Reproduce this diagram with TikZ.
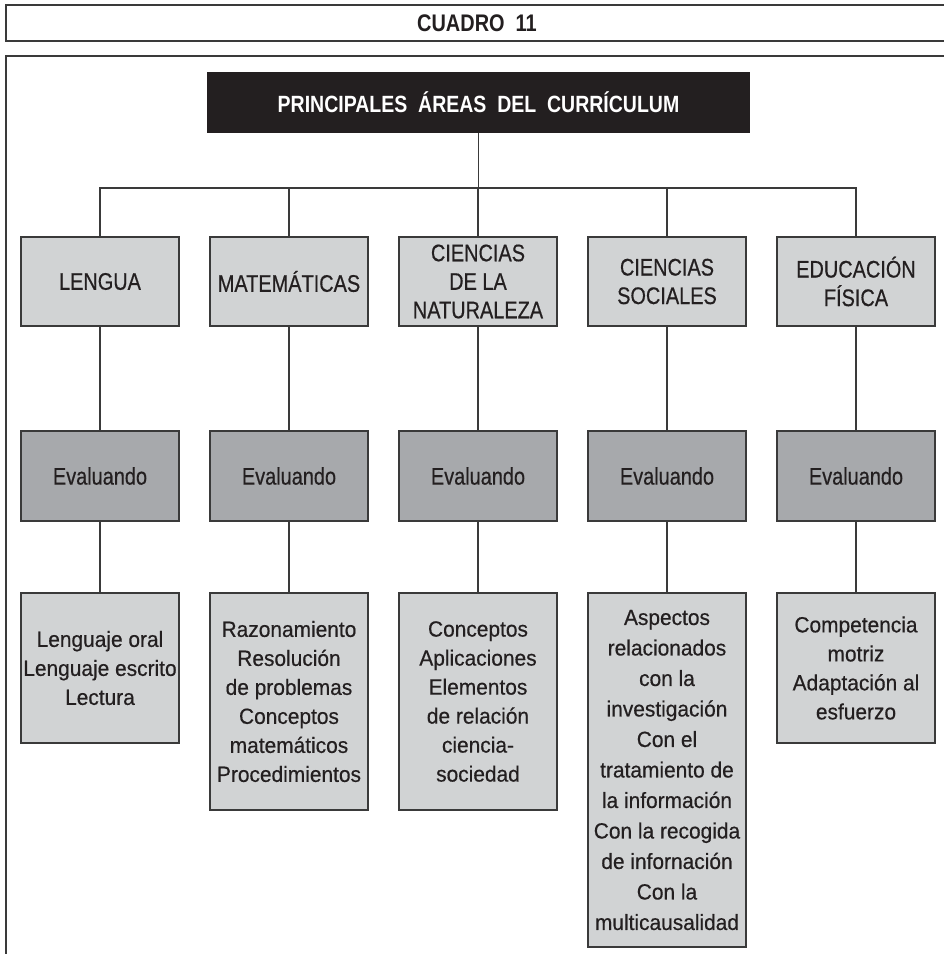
\documentclass[tikz,border=0pt]{standalone}
\usepackage{fontspec}
\setmainfont{Liberation Sans}
\newfontfamily\cbold{Liberation Sans Bold}[FakeStretch=0.83]
\newfontfamily\cnorm{Liberation Sans}[FakeStretch=0.83,FakeBold=0.5]
\newfontfamily\inorm{Liberation Sans}[FakeStretch=0.95,FakeBold=0.5]
\definecolor{ink}{HTML}{231F20}
\definecolor{lightbox}{HTML}{D1D3D4}
\definecolor{darkbox}{HTML}{A7A9AC}
\definecolor{linecol}{HTML}{3A3A3A}
\begin{document}
\begin{tikzpicture}[x=1pt,y=-1pt,
  framebox/.style={draw=linecol,line width=1.8pt},
  areabox/.style={draw=linecol,line width=1.6pt,fill=lightbox,minimum width=158pt,inner sep=0pt,align=center,text=ink,font=\cnorm\fontsize{24}{28.5}\selectfont},
  evalbox/.style={draw=linecol,line width=1.6pt,fill=darkbox,minimum width=158pt,minimum height=90pt,inner sep=0pt,align=center,text=ink,font=\cnorm\fontsize{24}{28}\selectfont},
  itembox/.style={draw=linecol,line width=1.6pt,fill=lightbox,minimum width=158pt,inner sep=0pt,align=center,text=ink,font=\inorm\fontsize{22}{29}\selectfont},
  conn/.style={draw=linecol,line width=1.3pt}]
\useasboundingbox (0,0) rectangle (944,954);
% frames
\draw[framebox] (960,4.7) -- (5.7,4.7) -- (5.7,41) -- (960,41);
\node[text=ink,font=\cbold\fontsize{24}{28}\selectfont] (cuadro) at (477,23) {CUADRO\ \ 11};
\draw[framebox] (960,56) -- (5.7,56) -- (5.7,970);
% title
\node[fill=ink,minimum width=543pt,minimum height=61pt,inner sep=0pt,text=white,font=\cbold\fontsize{23.5}{28}\selectfont] (title) at (478.5,102.5) {PRINCIPALES\ \ ÁREAS\ \ DEL\ \ CURRÍCULUM};
% area boxes
\node[areabox,minimum height=89pt] (a1) at (100,281.5) {LENGUA};
\node[areabox,minimum height=89pt] (a2) at (289,281.5) {MATEMÁTICAS};
\node[areabox,minimum height=89pt] (a3) at (478,281.5) {CIENCIAS\\DE\ LA\\NATURALEZA};
\node[areabox,minimum height=89pt] (a4) at (667,281.5) {CIENCIAS\\SOCIALES};
\node[areabox,minimum height=89pt] (a5) at (856,281.5) {EDUCACIÓN\\FÍSICA};
% evaluando
\node[evalbox] (e1) at (100,476) {Evaluando};
\node[evalbox] (e2) at (289,476) {Evaluando};
\node[evalbox] (e3) at (478,476) {Evaluando};
\node[evalbox] (e4) at (667,476) {Evaluando};
\node[evalbox] (e5) at (856,476) {Evaluando};
% items
\node[itembox,minimum height=150pt] (i1) at (100,668) {Lenguaje oral\\Lenguaje escrito\\Lectura};
\node[itembox,minimum height=217pt] (i2) at (289,701.5) {Razonamiento\\Resolución\\de problemas\\Conceptos\\matemáticos\\Procedimientos};
\node[itembox,minimum height=217pt] (i3) at (478,701.5) {Conceptos\\Aplicaciones\\Elementos\\de relación\\ciencia-\\sociedad};
\node[itembox,minimum height=354pt,font=\inorm\fontsize{22}{30.5}\selectfont] (i4) at (667,770) {Aspectos\\relacionados\\con la\\investigación\\Con el\\tratamiento de\\la información\\Con la recogida\\de infornación\\Con la\\multicausalidad};
\node[itembox,minimum height=150pt] (i5) at (856,668) {Competencia\\motriz\\Adaptación al\\esfuerzo};
% connectors
\coordinate (bus) at (478.5,188);
\draw[conn] (title.south) -- (bus);
\draw[conn] (a1.north) |- (bus) -| (a5.north);
\draw[conn] (a2.north) -- (a2.north |- bus);
\draw[conn] (a3.north) -- (a3.north |- bus);
\draw[conn] (a4.north) -- (a4.north |- bus);
\foreach \k in {1,...,5}{
  \draw[conn] (a\k.south) -- (e\k.north);
  \draw[conn] (e\k.south) -- (i\k.north);
}
\end{tikzpicture}
\end{document}
